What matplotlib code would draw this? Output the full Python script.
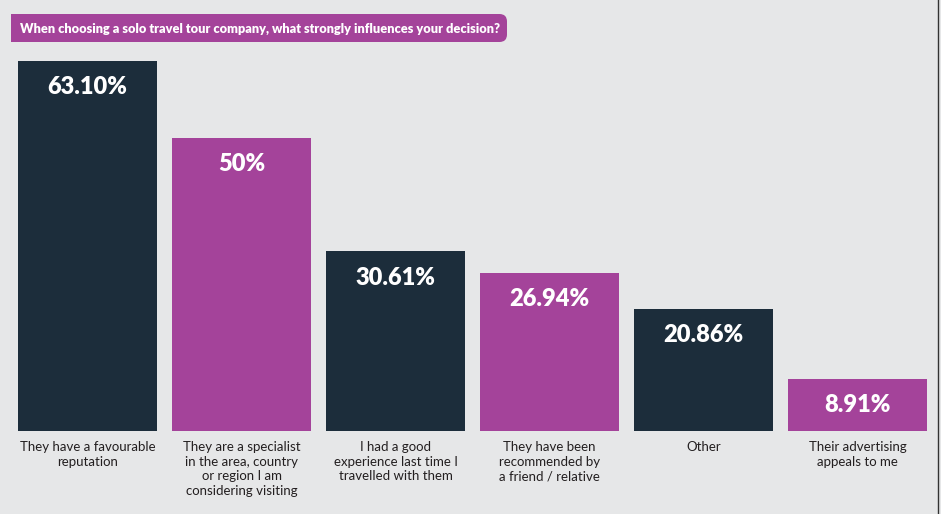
import matplotlib
matplotlib.use('Agg')
import matplotlib.pyplot as plt
from matplotlib.patches import FancyBboxPatch, Rectangle
from matplotlib.lines import Line2D

# data
categories = [
    'They have a favourable\nreputation',
    'They are a specialist\nin the area, country\nor region I am\nconsidering visiting',
    'I had a good\nexperience last time I\ntravelled with them',
    'They have been\nrecommended by\na friend / relative',
    'Other',
    'Their advertising\nappeals to me',
]
values = [63.10, 50, 30.61, 26.94, 20.86, 8.91]
value_labels = ['63.10%', '50%', '30.61%', '26.94%', '20.86%', '8.91%']
title = 'When choosing a solo travel tour company, what strongly influences your decision?'

navy = '#1c2d3b'
magenta = '#a4439a'
bg = '#e6e7e8'
colors = [navy, magenta] * 3

W, H = 941, 514
fig = plt.figure(figsize=(W / 100, H / 100), dpi=100, facecolor=bg)
ax = fig.add_axes([10.5 / W, 83 / H, 924 / W, 410.5 / H])
ax.set_facecolor(bg)

x = range(len(values))
ax.bar(x, values, width=0.9, color=colors)
ax.set_xlim(-0.5, 5.5)
ax.set_ylim(0, 70)
for s in ax.spines.values():
    s.set_visible(False)
ax.set_yticks([])
ax.set_xticks([])

for i, (v, lab) in enumerate(zip(values, value_labels)):
    ax.annotate(lab, (i, v), xytext=(0, -11), textcoords='offset points',
                ha='center', va='top', color='white', fontsize=17,
                fontweight='heavy', family='Lato')
    ax.annotate(categories[i], (i, 0), xytext=(0, -7.5), textcoords='offset points',
                ha='center', va='top', color='#231f20', fontsize=9.5,
                family='Lato', linespacing=1.25)

# title banner (square left, rounded right)
box = FancyBboxPatch((11 / W, 1 - 42 / H), 496 / W, 28 / H,
                     boxstyle='round,pad=0,rounding_size=0.008',
                     transform=fig.transFigure, facecolor=magenta,
                     edgecolor='none', mutation_aspect=W / H)
fig.add_artist(box)
fig.add_artist(Rectangle((11 / W, 1 - 42 / H), 250 / W, 28 / H,
                         transform=fig.transFigure, facecolor=magenta,
                         edgecolor='none'))
fig.text(20 / W, 1 - 28.5 / H, title, color='white', fontsize=9.2,
         fontweight='heavy', family='Lato', va='center', ha='left')

fig.add_artist(Line2D([938 / W, 938 / W], [0, 1], color='#333333', lw=1,
                      transform=fig.transFigure))

fig.savefig('out.png', dpi=100, facecolor=bg)
